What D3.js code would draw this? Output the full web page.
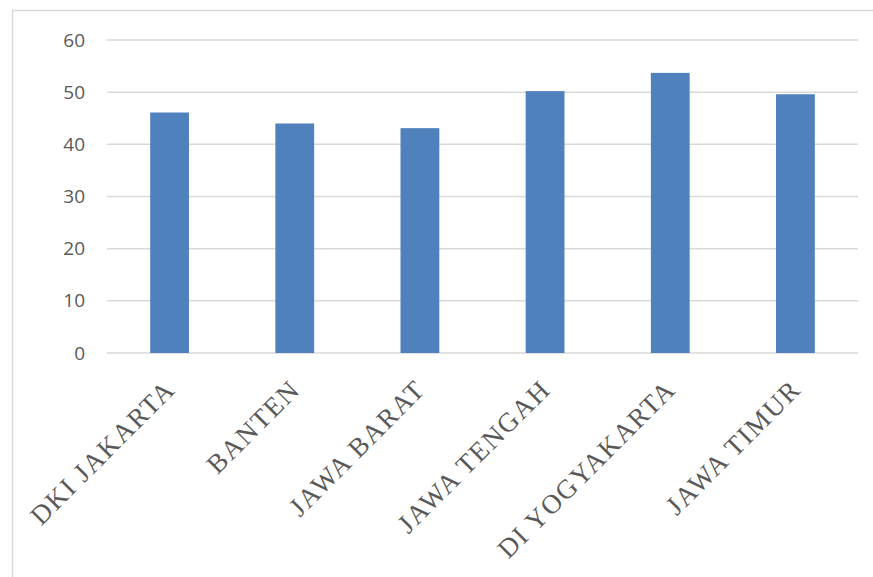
<!DOCTYPE html>
<html>
<head>
<meta charset="utf-8">
<script src="https://d3js.org/d3.v7.min.js"></script>
<style>
  body { margin: 0; background: #fff; }
</style>
</head>
<body>
<svg id="chart" width="873" height="577"></svg>
<script>
// provinces and their values
const provinces = ['DKI JAKARTA', 'BANTEN', 'JAWA BARAT', 'JAWA TENGAH', 'DI YOGYAKARTA', 'JAWA TIMUR'];
const values = [46.1, 44.0, 43.1, 50.2, 53.7, 49.6];
const yTicks = [0, 10, 20, 30, 40, 50, 60];

const svg = d3.select('#chart');
// plot edges (window.top is taken, so no bare "top")
const plotLeft = 107, plotRight = 858, plotTop = 40, plotBottom = 353;

// outer frame of the chart area (runs off the right and bottom edge)
svg.append('rect')
    .attr('x', 12.5).attr('y', 10.5)
    .attr('width', 880).attr('height', 600)
    .attr('fill', 'none')
    .attr('stroke', '#d9d9d9')
    .attr('stroke-width', 1.5);

const x = d3.scaleBand()
    .domain(provinces)
    .range([plotLeft, plotRight])
    .paddingInner(0.69)
    .paddingOuter(0.345);

const y = d3.scaleLinear()
    .domain([0, 60])
    .range([plotBottom, plotTop]);

// gridlines
svg.append('g')
    .selectAll('line')
    .data(yTicks)
    .enter()
    .append('line')
    .attr('x1', plotLeft)
    .attr('x2', plotRight)
    .attr('y1', d => y(d))
    .attr('y2', d => y(d))
    .attr('stroke', '#d9d9d9')
    .attr('stroke-width', 1.5);

// y labels
svg.append('g')
    .selectAll('text')
    .data(yTicks)
    .enter()
    .append('text')
    .attr('x', 85)
    .attr('y', d => y(d))
    .attr('dy', '0.35em')
    .attr('text-anchor', 'end')
    .style('font-family', '"Open Sans", sans-serif')
    .style('font-size', '19px')
    .attr('fill', '#595959')
    .text(d => d);

// bars
svg.append('g')
    .selectAll('rect')
    .data(values)
    .enter()
    .append('rect')
    .attr('x', (d, i) => x(provinces[i]))
    .attr('y', d => y(d))
    .attr('width', x.bandwidth())
    .attr('height', d => y(0) - y(d))
    .attr('fill', '#4f81bd');

// category labels, rotated
svg.append('g')
    .selectAll('text')
    .data(provinces)
    .enter()
    .append('text')
    .attr('transform', d => `translate(${x(d) + x.bandwidth() / 2 + 7},391) rotate(-45)`)
    .attr('text-anchor', 'end')
    .style('font-family', '"Liberation Serif", "Times New Roman", serif')
    .style('font-size', '27px')
    .style('letter-spacing', '1.6px')
    .attr('fill', '#595959')
    .text(d => d);
</script>
</body>
</html>
